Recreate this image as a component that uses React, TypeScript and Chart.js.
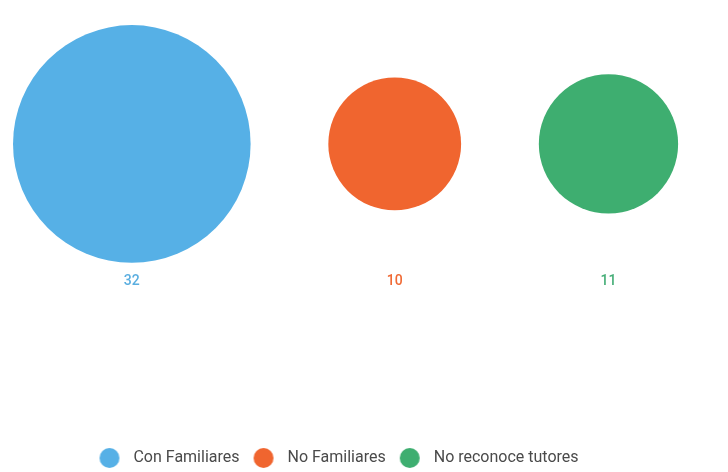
import React, { useEffect, useRef } from "react";
import { Chart, registerables } from "chart.js";

Chart.register(...registerables);

const categories = ["Con Familiares", "No Familiares", "No reconoce tutores"];
const values = [32, 10, 11];
const colors = ["#56B0E6", "#F0652F", "#3EAE70"];
const labelColors = ["#5AAEE0", "#F06A35", "#46AE78"];

const PX_PER_UNIT = 21; // bubble radius in px per sqrt(value)
const EDGE = 0.62; // left gap, in sqrt-units
const GAP = 3.7; // gap between bubbles, in sqrt-units
const PAD_RIGHT = 40;
const CANVAS_W = 728;

function packCenters(vals: number[]): number[] {
  let x = EDGE;
  return vals.map((v) => {
    const r = Math.sqrt(v);
    const c = x + r;
    x = c + r + GAP;
    return c;
  });
}

function makeDot(color: string): HTMLCanvasElement {
  const c = document.createElement("canvas");
  c.width = 40;
  c.height = 20;
  const g = c.getContext("2d")!;
  g.fillStyle = color;
  g.beginPath();
  g.arc(12, 10, 10, 0, Math.PI * 2);
  g.fill();
  return c;
}

const valueLabels = {
  id: "valueLabels",
  afterDatasetsDraw(chart: any) {
    const ctx = chart.ctx;
    const maxR = Math.max(...values.map((v) => Math.sqrt(v) * PX_PER_UNIT));
    ctx.save();
    ctx.font = "500 14px Roboto";
    ctx.textAlign = "center";
    ctx.textBaseline = "middle";
    chart.data.datasets.forEach((ds: any, i: number) => {
      const el = chart.getDatasetMeta(i).data[0];
      if (!el) return;
      ctx.fillStyle = labelColors[i];
      ctx.fillText(String(values[i]), el.x, el.y + maxR + 19);
    });
    ctx.restore();
  },
};

export default function App() {
  const ref = useRef<HTMLCanvasElement>(null);
  useEffect(() => {
    const centers = packCenters(values);
    const dots = colors.map(makeDot);
    const chart = new Chart(ref.current!, {
      type: "bubble",
      data: {
        datasets: categories.map((name, i) => ({
          label: name,
          data: [{ x: centers[i], y: 0, r: Math.sqrt(values[i]) * PX_PER_UNIT }],
          backgroundColor: colors[i],
          borderColor: colors[i],
          borderWidth: 0,
          clip: false,
        })),
      },
      options: {
        animation: false,
        responsive: false,
        events: [],
        layout: { autoPadding: false, padding: { left: 0, right: PAD_RIGHT, top: 0, bottom: -4 } },
        scales: {
          x: { type: "linear", display: false, min: 0, max: (CANVAS_W - PAD_RIGHT) / PX_PER_UNIT },
          y: { type: "linear", display: false, min: -1.96, max: 1 },
        },
        plugins: {
          tooltip: { enabled: false },
          legend: {
            position: "bottom",
            labels: {
              usePointStyle: true,
              padding: 24,
              color: "#4a4a4a",
              font: { family: "Roboto", size: 16 },
              generateLabels: (chart: any) => {
                const items = Chart.defaults.plugins.legend.labels.generateLabels(chart);
                return items.map((it: any, i: number) => ({ ...it, pointStyle: dots[i] }));
              },
            },
          },
        },
      },
      plugins: [valueLabels],
    });
    return () => chart.destroy();
  }, []);
  return (
    <div style={{ position: "fixed", left: 0, top: 0, width: 728, height: 472, background: "#fff" }}>
      <canvas ref={ref} width={728} height={472} style={{ width: 728, height: 472 }} />
    </div>
  );
}
